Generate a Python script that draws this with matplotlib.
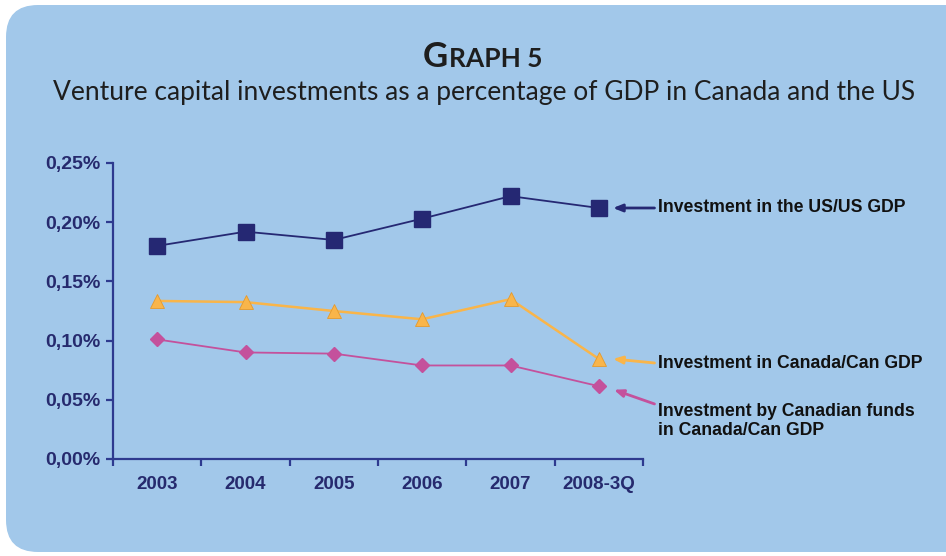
import matplotlib
matplotlib.use("Agg")
import matplotlib.pyplot as plt
from matplotlib.patches import FancyBboxPatch

categories = ["2003", "2004", "2005", "2006", "2007", "2008-3Q"]
us_gdp = [0.180, 0.192, 0.185, 0.203, 0.222, 0.212]
canada_gdp = [0.1335, 0.1325, 0.125, 0.118, 0.135, 0.0845]
canadian_funds = [0.101, 0.090, 0.089, 0.079, 0.079, 0.0615]
ytick_vals = [0.0, 0.05, 0.10, 0.15, 0.20, 0.25]
ytick_labels = ["0,00%", "0,05%", "0,10%", "0,15%", "0,20%", "0,25%"]

narrow = "Lato"

fig = plt.figure(figsize=(9.46, 5.56), dpi=100)
fig.patch.set_facecolor("white")

panel = FancyBboxPatch((0.06, 0.04), 9.9, 5.47,
                       boxstyle="round,pad=0,rounding_size=0.32",
                       transform=fig.dpi_scale_trans,
                       facecolor="#a2c8ea", edgecolor="none", zorder=-5)
fig.patches.append(panel)

ax = fig.add_axes([113/946, 1-459/556, (643-113)/946, (459-163)/556])
ax.set_facecolor("none")
ax.set_zorder(2)

x = list(range(len(categories)))
navy = "#252873"
orange = "#f9b54a"
magenta = "#c4519c"
axis_col = "#2e3a8f"

ax.plot(x, us_gdp, color=navy, lw=1.3, marker="s", ms=11.5,
        markerfacecolor=navy, markeredgecolor=navy, zorder=3, clip_on=False)
ax.plot(x, canada_gdp, color=orange, lw=1.8, marker="^", ms=10,
        markerfacecolor=orange, markeredgecolor="#e59a2c", markeredgewidth=0.6,
        zorder=3, clip_on=False)
ax.plot(x, canadian_funds, color=magenta, lw=1.3, marker="D", ms=7.5,
        markerfacecolor=magenta, markeredgecolor=magenta, zorder=3, clip_on=False)

ax.set_xlim(-0.5, len(categories) - 0.5)
ax.set_ylim(0, 0.25)
for s in ["top", "right"]:
    ax.spines[s].set_visible(False)
for s in ["left", "bottom"]:
    ax.spines[s].set_color(axis_col)
    ax.spines[s].set_linewidth(1.6)

ax.set_yticks(ytick_vals)
ax.set_yticklabels(ytick_labels)
ax.set_xticks([i - 0.5 for i in range(len(categories) + 1)])
ax.set_xticklabels([])
ax.set_xticks(x, minor=True)
ax.set_xticklabels(categories, minor=True)
ax.tick_params(axis="x", which="major", length=5, width=1.6, color=axis_col, direction="out")
ax.tick_params(axis="x", which="minor", length=0, pad=12)
ax.tick_params(axis="y", length=5, width=1.6, color=axis_col, pad=4)
for lab in ax.get_yticklabels():
    lab.set_fontfamily("Liberation Sans")
    lab.set_fontweight("bold")
    lab.set_fontsize(14)
    lab.set_color("#262a6e")
for lab in ax.get_xticklabels(minor=True):
    lab.set_fontfamily("Liberation Sans")
    lab.set_fontweight("bold")
    lab.set_fontsize(13.5)
    lab.set_color("#262a6e")

# Annotations
ann_fs = 12.7
arrow_specs = [
    ("Investment in the US/US GDP", us_gdp[-1], us_gdp[-1], us_gdp[-1], navy),
    ("Investment in Canada/Can GDP", canada_gdp[-1], 0.0811, 0.0805, orange),
]
for text, ytip, ytail, ytext, col in arrow_specs:
    ax.annotate("", xy=(5.16, ytip), xytext=(5.63, ytail), xycoords="data",
                annotation_clip=False,
                arrowprops=dict(arrowstyle="-|>,head_length=0.55,head_width=0.22",
                                color=col, lw=2, shrinkA=0, shrinkB=0))
    ax.text(5.67, ytext, text, ha="left", va="center", fontsize=ann_fs,
            fontweight="bold", family="Liberation Sans", color="#111111",
            clip_on=False)

ax.annotate("", xy=(5.17, 0.0585), xytext=(5.63, 0.0465), xycoords="data",
            annotation_clip=False,
            arrowprops=dict(arrowstyle="-|>,head_length=0.55,head_width=0.22",
                            color=magenta, lw=2, shrinkA=0, shrinkB=0))
ax.text(5.67, 0.0475, "Investment by Canadian funds\nin Canada/Can GDP", ha="left",
        va="top", fontsize=ann_fs, fontweight="bold", family="Liberation Sans",
        color="#111111", linespacing=1.2, clip_on=False)

# Title with small caps
fig.canvas.draw()
renderer = fig.canvas.get_renderer()
title_y = 1 - 67/556
t1 = fig.text(0, title_y, "G", fontsize=25, fontweight="bold", family=narrow,
              color="#1e1e1e", va="baseline", ha="left")
t2 = fig.text(0, title_y, "RAPH 5", fontsize=19, fontweight="bold", family=narrow,
              color="#1e1e1e", va="baseline", ha="left")
w1 = t1.get_window_extent(renderer).width / 946
w2 = t2.get_window_extent(renderer).width / 946
cx = 482 / 946
start = cx - (w1 + w2) / 2
t1.set_x(start)
t2.set_x(start + w1 + 1/946)

fig.text(484/946, 1 - 100/556, "Venture capital investments as a percentage of GDP in Canada and the US",
         fontsize=19, family=narrow, color="#1e1e1e", ha="center", va="baseline")

fig.savefig("out.png", dpi=100, facecolor=fig.get_facecolor())
